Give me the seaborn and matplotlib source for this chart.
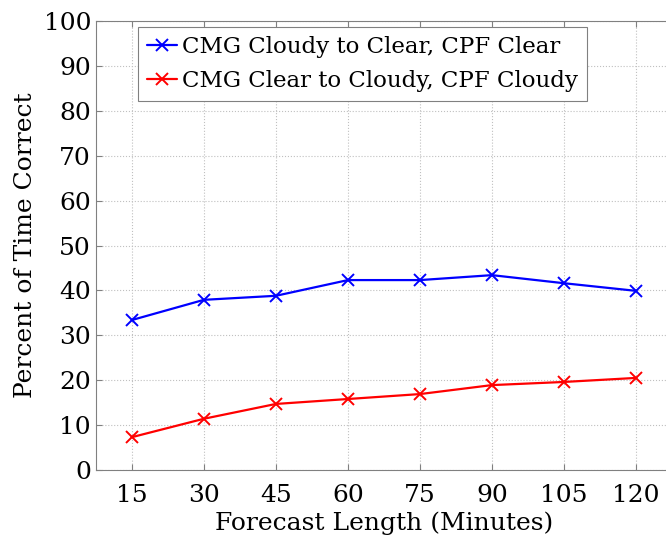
import pandas as pd
import seaborn as sns
import matplotlib.pyplot as plt

minutes = [15, 30, 45, 60, 75, 90, 105, 120]
cloudy_to_clear = [33.4, 37.9, 38.8, 42.3, 42.3, 43.4, 41.6, 39.9]
clear_to_cloudy = [7.3, 11.4, 14.7, 15.8, 16.9, 18.9, 19.6, 20.5]
labels = ["CMG Cloudy to Clear, CPF Clear", "CMG Clear to Cloudy, CPF Cloudy"]
yticks = list(range(0, 101, 10))

df = pd.DataFrame({
    "minutes": minutes * 2,
    "pct": cloudy_to_clear + clear_to_cloudy,
    "series": [labels[0]] * len(minutes) + [labels[1]] * len(minutes),
})

sns.set_style("ticks")
plt.rcParams["font.family"] = ["DejaVu Serif"]
plt.rcParams["text.color"] = "black"
plt.rcParams["axes.labelcolor"] = "black"
plt.rcParams["xtick.color"] = "black"
plt.rcParams["ytick.color"] = "black"

fig = plt.figure(figsize=(6.66, 5.42), dpi=100)
ax = fig.add_axes([0.144, 0.133, 0.865, 0.828])

sns.lineplot(data=df, x="minutes", y="pct", hue="series", hue_order=labels,
             palette=["#0000ff", "#ff0000"], marker="x", markersize=9,
             linewidth=1.6, ax=ax)
for ln in ax.get_lines():
    ln.set_markeredgecolor(ln.get_color())
    ln.set_markeredgewidth(1.4)

ax.set_xlim(7.5, 127.5)
ax.set_ylim(0, 100)
ax.set_xticks(minutes)
ax.set_yticks(yticks)
ax.tick_params(labelsize=18, direction="in", top=True, right=True,
               color="#808080", length=4)
ax.tick_params(axis="x", pad=10)
ax.grid(True, linestyle=":", color="#c0c0c0", linewidth=0.8)
for s in ax.spines.values():
    s.set_color("#808080")
ax.set_xlabel("Forecast Length (Minutes)", fontsize=18, labelpad=3)
ax.set_ylabel("Percent of Time Correct", fontsize=18, labelpad=5)

leg = ax.legend(loc="upper left", bbox_to_anchor=(0.073, 0.988), fontsize=16.5,
                handlelength=1.3, handletextpad=0.2, borderpad=0.4,
                labelspacing=0.55, fancybox=False, framealpha=1,
                edgecolor="#808080", borderaxespad=0)
leg.get_frame().set_linewidth(0.8)
for h in leg.get_lines():
    h.set_markeredgecolor(h.get_color())
    h.set_markeredgewidth(1.4)

fig.savefig("out.png", dpi=100)
